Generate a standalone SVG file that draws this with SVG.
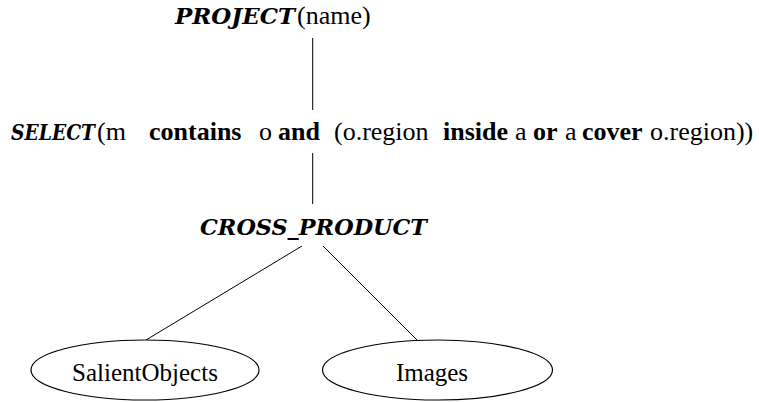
<svg xmlns="http://www.w3.org/2000/svg" width="759" height="402" viewBox="0 0 759 402">
<style>
.op{font-family:'DejaVu Serif Condensed','DejaVu Serif','Liberation Serif',serif;font-weight:bold;font-style:italic;font-size:23px;fill:#000}
.t{font-family:'Liberation Serif','Times New Roman',serif;font-size:26px;fill:#000}
.n{font-family:'Liberation Serif','Times New Roman',serif;font-size:25px;fill:#000}
.b{font-weight:bold}
.edge{stroke:#000;stroke-width:1;fill:none}
.ell{stroke:#000;stroke-width:1.2;fill:#fff}
</style>
<rect width="759" height="402" fill="#fff"/>
<g id="connectors">
<line class="edge" x1="312.7" y1="38" x2="312.7" y2="110"/>
<line class="edge" x1="312.7" y1="153" x2="312.7" y2="204"/>
<line class="edge" x1="302" y1="246" x2="146" y2="340"/>
<line class="edge" x1="323" y1="246" x2="417" y2="340"/>
</g>
<g id="project">
<text x="175" y="24" class="op" textLength="120" lengthAdjust="spacingAndGlyphs">PROJECT</text>
<text x="297" y="24" class="t">(name)</text>
</g>
<g id="select">
<text x="11" y="140" class="op" textLength="84" lengthAdjust="spacingAndGlyphs">SELECT</text>
<text x="97" y="140" class="t">(m</text>
<text y="140" class="t"><tspan x="149" class="b">contains</tspan><tspan x="259">o</tspan><tspan x="278" class="b">and</tspan><tspan x="334">(o.region</tspan><tspan x="443" class="b">inside</tspan><tspan x="515">a</tspan><tspan x="533" class="b">or</tspan><tspan x="565">a</tspan><tspan x="582" class="b">cover</tspan><tspan x="650">o.region))</tspan></text>
</g>
<g id="cross_product">
<text x="200" y="235" class="op" textLength="227" lengthAdjust="spacingAndGlyphs">CROSS_PRODUCT</text>
</g>
<g id="salientobjects">
<ellipse class="ell" cx="145" cy="370" rx="114" ry="30"/>
<text x="145" y="381" class="n" text-anchor="middle">SalientObjects</text>
</g>
<g id="images">
<ellipse class="ell" cx="437.5" cy="370" rx="115" ry="30"/>
<text x="432" y="381" class="n" text-anchor="middle">Images</text>
</g>
</svg>
